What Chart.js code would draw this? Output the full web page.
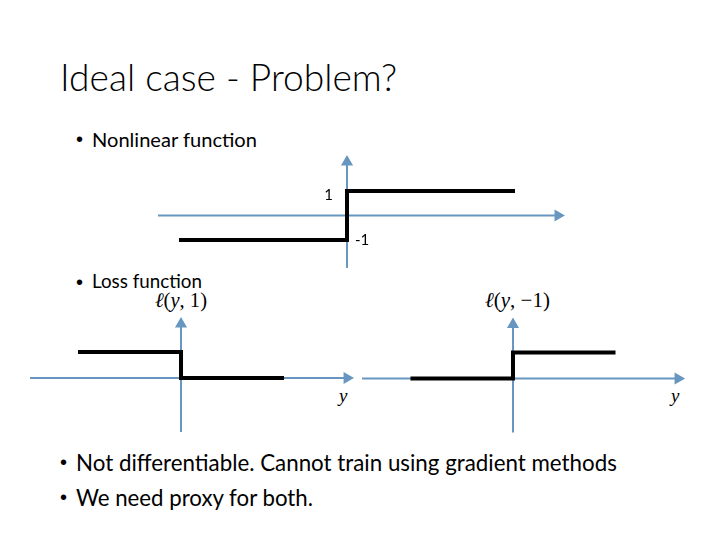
<!DOCTYPE html>
<html>
<head>
<meta charset="utf-8">
<script src="https://cdn.jsdelivr.net/npm/chart.js@4.4.1/dist/chart.umd.min.js"></script>
<style>
  body { margin: 0; background: #fff; }
  #slide { position: relative; width: 720px; height: 540px; overflow: hidden; font-family: Lato, "Open Sans", sans-serif; color: #000; }
  .t { position: absolute; white-space: nowrap; line-height: 1; }
  .b { position: absolute; line-height: 1; font-family: "Liberation Sans", Arial, sans-serif; font-size: 20px; }
  .m { position: absolute; white-space: nowrap; line-height: 1; font-family: "Liberation Serif", "DejaVu Serif", serif; font-size: 19px; }
  canvas { position: absolute; }
</style>
</head>
<body>
<div id="slide">
  <div class="t" data-w="337" style="left:60px; top:58px; font-size:42px; font-weight:300;">Ideal case - Problem?</div>
  <div class="b" style="left:76px; top:129px;">&bull;</div>
  <div class="t" data-w="165" style="left:92px; top:129px; font-size:21px;">Nonlinear function</div>
  <div class="b" style="left:76px; top:272px;">&bull;</div>
  <div class="t" data-w="110" style="left:92px; top:272px; font-size:21px;">Loss function</div>
  <div class="b" style="left:60px; top:452px;">&bull;</div>
  <div class="t" data-w="541" style="left:76px; top:452px; font-size:21px;">Not differentiable. Cannot train using gradient methods</div>
  <div class="b" style="left:60px; top:487px;">&bull;</div>
  <div class="t" data-w="237" style="left:76px; top:487px; font-size:21px;">We need proxy for both.</div>

  <div class="m" data-w="52" style="left:155px; top:290px;"><i>ℓ</i>(<i>y</i>, 1)</div>
  <div class="m" data-w="65" style="left:485px; top:290px;"><i>ℓ</i>(<i>y</i>, −1)</div>
  <div class="m" style="left:339px; top:386px;"><i>y</i></div>
  <div class="m" style="left:671px; top:386px;"><i>y</i></div>

  <canvas id="signCanvas" width="430" height="125" style="left:150px; top:150px;"></canvas>
  <canvas id="loss1Canvas" width="345" height="130" style="left:20px; top:310px;"></canvas>
  <canvas id="loss2Canvas" width="345" height="130" style="left:355px; top:310px;"></canvas>
</div>

<script>
// step functions, x values shared by all three
const stepX = [-1, 0, 1];
const signY = [-1, 1, 1];
const lossPosY = [1, 0, 0];
const lossNegY = [0, 1, 1];
const signTicks = ['1', '-1'];
const signTickValues = [1, -1];

// extents of the drawn axes (data units)
const signXAxis = [-1.125, 1.256];
const signYAxis = [-2.14, 2.18];
const lossPosXAxis = [-1.466, 1.612];
const lossNegXAxis = [-1.473, 1.61];
const lossYAxis = [-2.077, 2.077];

const axisColor = '#6797c0';

function points(xs, ys) {
    return xs.map(function(x, i) { return { x: x, y: ys[i] }; });
}

// fit slide text to the widths measured on the picture
document.querySelectorAll('[data-w]').forEach(function(el) {
    var target = +el.dataset.w;
    var size = parseFloat(getComputedStyle(el).fontSize);
    var w = el.getBoundingClientRect().width;
    el.style.fontSize = (size * target / w).toFixed(2) + 'px';
});

var tickPlugin = {
    id: 'signTicks',
    afterDatasetsDraw: function(chart) {
        if (chart.canvas.id !== 'signCanvas') return;
        var ctx = chart.ctx;
        var x0 = chart.scales.x.getPixelForValue(0);
        ctx.save();
        ctx.font = '15px Lato, sans-serif';
        ctx.fillStyle = '#000';
        ctx.textBaseline = 'middle';
        signTicks.forEach(function(label, i) {
            var y = chart.scales.y.getPixelForValue(signTickValues[i]);
            if (signTickValues[i] > 0) {
                ctx.textAlign = 'right';
                ctx.fillText(label, x0 - 14, y + 4);
            } else {
                ctx.textAlign = 'left';
                ctx.fillText(label, x0 + 8, y);
            }
        });
        ctx.restore();
    }
};

function stepChart(id, stepY, xAxis, yAxis, range) {
    var ctx = document.getElementById(id).getContext('2d');
    var data = {
        datasets: [
            {
                data: points(stepX, stepY),
                stepped: true,
                borderColor: '#000',
                borderWidth: 4,
                borderJoinStyle: 'miter',
                pointRadius: 0
            },
            {
                data: points(xAxis, [0, 0]),
                borderColor: axisColor,
                borderWidth: 2,
                pointStyle: 'triangle',
                pointRadius: [0, 5],
                pointRotation: [0, 90],
                pointBackgroundColor: axisColor,
                pointBorderColor: axisColor
            },
            {
                data: points([0, 0], yAxis),
                borderColor: axisColor,
                borderWidth: 2,
                pointStyle: 'triangle',
                pointRadius: [0, 5],
                pointRotation: [0, 0],
                pointBackgroundColor: axisColor,
                pointBorderColor: axisColor
            }
        ]
    };
    var options = {
        responsive: false,
        animation: false,
        layout: { padding: 0, autoPadding: false },
        plugins: { legend: { display: false }, tooltip: { enabled: false } },
        elements: { line: { tension: 0 } },
        datasets: { line: { clip: false } },
        scales: {
            x: { type: 'linear', min: range[0], max: range[1], display: false },
            y: { type: 'linear', min: range[2], max: range[3], display: false }
        }
    };
    new Chart(ctx, { type: 'line', data: data, options: options, plugins: [tickPlugin] });
}

stepChart('signCanvas', signY, signXAxis, signYAxis, [-1.1726, 1.3869, -2.429, 2.673]);
stepChart('loss1Canvas', lossPosY, lossPosXAxis, lossYAxis, [-1.563, 1.786, -2.385, 2.615]);
stepChart('loss2Canvas', lossNegY, lossNegXAxis, lossYAxis, [-1.541, 1.824, -2.365, 2.635]);
</script>
</body>
</html>
